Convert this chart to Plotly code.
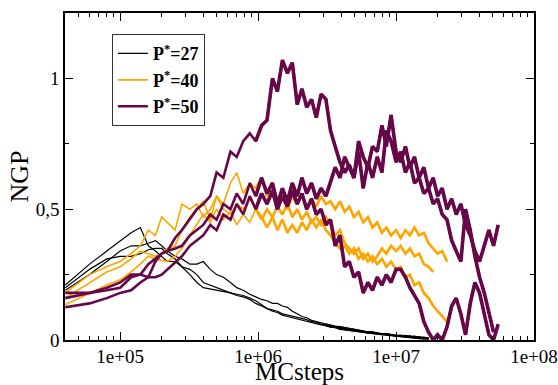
import plotly.graph_objects as go

# MC steps sampled (shared grid, each curve uses the first len(values) points)
mcsteps = [4.0e4, 6.0e4, 8.0e4, 1.0e5, 1.2e5, 1.4e5, 1.6e5, 1.8e5, 2.0e5, 2.2e5,
           2.5e5, 2.8e5, 3.2e5, 3.6e5, 4.0e5, 4.5e5, 5.0e5, 5.6e5, 6.3e5, 7.0e5,
           7.8e5, 8.7e5, 9.6e5, 1.06e6, 1.16e6, 1.27e6, 1.38e6, 1.5e6, 1.63e6, 1.77e6,
           1.92e6, 2.08e6, 2.25e6, 2.44e6, 2.64e6, 2.86e6, 3.1e6, 3.35e6, 3.62e6, 3.92e6,
           4.24e6, 4.58e6, 4.95e6, 5.35e6, 5.78e6, 6.25e6, 6.75e6, 7.3e6, 7.9e6, 8.5e6,
           9.2e6, 1.0e7, 1.08e7, 1.17e7, 1.26e7, 1.36e7, 1.47e7, 1.59e7, 1.72e7, 1.86e7,
           2.0e7, 2.16e7, 2.34e7, 2.53e7, 2.73e7, 2.95e7, 3.19e7, 3.45e7, 3.73e7, 4.03e7,
           4.36e7, 4.71e7, 5.09e7, 5.5e7]

# P* = 27 (black)
ngp27_a = [0.21, 0.29, 0.34, 0.38, 0.41, 0.43, 0.36, 0.34, 0.32, 0.30, 0.30, 0.28, 0.27, 0.25, 0.22,
           0.21, 0.20, 0.19, 0.18, 0.175, 0.17, 0.16, 0.15, 0.135, 0.12, 0.115, 0.11, 0.10, 0.095, 0.09,
           0.085, 0.08, 0.078, 0.07, 0.068, 0.06, 0.058, 0.052, 0.05, 0.046, 0.045, 0.04, 0.04, 0.035,
           0.032, 0.03, 0.028, 0.025, 0.024, 0.02, 0.02, 0.018, 0.015, 0.017, 0.012, 0.014, 0.008, 0.01, 0.005]
ngp27_b = [0.19, 0.25, 0.30, 0.34, 0.36, 0.36, 0.37, 0.38, 0.36, 0.34, 0.32, 0.31, 0.29, 0.29, 0.30,
           0.27, 0.25, 0.24, 0.22, 0.20, 0.19, 0.175, 0.165, 0.155, 0.15, 0.14, 0.14, 0.13, 0.125, 0.11,
           0.10, 0.09, 0.085, 0.075, 0.07, 0.065, 0.06, 0.055, 0.052, 0.05, 0.047, 0.042, 0.04, 0.037,
           0.033, 0.03, 0.03, 0.027, 0.022, 0.024, 0.02, 0.016, 0.018, 0.013, 0.015, 0.01, 0.012, 0.006, 0.008]
ngp27_c = [0.20, 0.27, 0.31, 0.32, 0.32, 0.33, 0.345, 0.35, 0.35, 0.33, 0.31, 0.28, 0.25, 0.22, 0.20,
           0.195, 0.19, 0.185, 0.18, 0.17, 0.165, 0.155, 0.14, 0.13, 0.12, 0.11, 0.105, 0.095, 0.09, 0.085,
           0.08, 0.075, 0.07, 0.068, 0.062, 0.058, 0.055, 0.05, 0.048, 0.042, 0.04, 0.038, 0.034, 0.033,
           0.03, 0.027, 0.025, 0.022, 0.02, 0.018, 0.016, 0.014, 0.012, 0.01, 0.01, 0.008, 0.006, 0.005, 0.004]

# P* = 40 (orange)
ngp40_a = [0.18, 0.25, 0.28, 0.30, 0.33, 0.36, 0.42, 0.40, 0.47, 0.45, 0.42, 0.52, 0.50, 0.52, 0.47,
           0.50, 0.55, 0.52, 0.60, 0.64, 0.56, 0.60, 0.58, 0.62, 0.55, 0.58, 0.52, 0.56, 0.50, 0.55,
           0.52, 0.56, 0.50, 0.54, 0.51, 0.55, 0.52, 0.53, 0.50, 0.53, 0.49, 0.51, 0.47, 0.49, 0.45,
           0.47, 0.43, 0.45, 0.41, 0.43, 0.40, 0.42, 0.39, 0.42, 0.40, 0.43, 0.40, 0.41, 0.37, 0.35,
           0.33, 0.34, 0.30]
ngp40_b = [0.16, 0.22, 0.26, 0.28, 0.31, 0.34, 0.33, 0.32, 0.33, 0.35, 0.36, 0.42, 0.47, 0.50, 0.53,
           0.46, 0.55, 0.50, 0.48, 0.52, 0.50, 0.54, 0.50, 0.46, 0.50, 0.47, 0.51, 0.48, 0.52, 0.47,
           0.50, 0.46, 0.49, 0.45, 0.47, 0.44, 0.47, 0.44, 0.40, 0.42, 0.37, 0.35, 0.33, 0.35, 0.31,
           0.33, 0.30, 0.32, 0.35, 0.33, 0.36, 0.34, 0.36, 0.33, 0.35, 0.32, 0.33, 0.29, 0.28, 0.26]
ngp40_c = [0.135, 0.18, 0.21, 0.23, 0.26, 0.29, 0.32, 0.31, 0.305, 0.30, 0.32, 0.35, 0.40, 0.44, 0.48,
           0.45, 0.50, 0.46, 0.49, 0.44, 0.48, 0.45, 0.50, 0.47, 0.43, 0.47, 0.42, 0.46, 0.41, 0.44,
           0.41, 0.45, 0.42, 0.46, 0.43, 0.46, 0.42, 0.40, 0.37, 0.35, 0.36, 0.33, 0.35, 0.31, 0.33,
           0.30, 0.32, 0.29, 0.31, 0.28, 0.30, 0.27, 0.28, 0.24, 0.25, 0.21, 0.22, 0.18, 0.16, 0.13,
           0.11, 0.09, 0.07]

# P* = 50 (maroon)
ngp50_a = [0.16, 0.18, 0.20, 0.22, 0.25, 0.25, 0.29, 0.31, 0.33, 0.34, 0.39, 0.42, 0.46, 0.50, 0.52,
           0.55, 0.64, 0.62, 0.72, 0.70, 0.76, 0.79, 0.76, 0.82, 0.84, 1.00, 0.95, 1.07, 1.02, 1.06,
           0.90, 0.96, 0.89, 0.92, 0.85, 0.94, 0.92, 0.80, 0.74, 0.68, 0.64, 0.67, 0.62, 0.72, 0.58,
           0.68, 0.62, 0.70, 0.64, 0.80, 0.76, 0.68, 0.72, 0.64, 0.68, 0.60, 0.62, 0.56, 0.58, 0.52,
           0.54, 0.48, 0.46, 0.38, 0.34, 0.30, 0.50, 0.42, 0.32, 0.24, 0.18, 0.10, 0.03]
ngp50_b = [0.18, 0.18, 0.19, 0.20, 0.24, 0.25, 0.24, 0.30, 0.33, 0.34, 0.35, 0.36, 0.40, 0.42, 0.44,
           0.48, 0.46, 0.52, 0.50, 0.56, 0.52, 0.60, 0.55, 0.62, 0.56, 0.60, 0.52, 0.58, 0.53, 0.60,
           0.55, 0.62, 0.56, 0.60, 0.54, 0.58, 0.55, 0.60, 0.66, 0.62, 0.70, 0.66, 0.62, 0.76, 0.70,
           0.66, 0.74, 0.72, 0.82, 0.74, 0.86, 0.72, 0.68, 0.74, 0.66, 0.70, 0.62, 0.66, 0.58, 0.62,
           0.55, 0.58, 0.50, 0.54, 0.48, 0.52, 0.44, 0.40, 0.34, 0.30, 0.36, 0.42, 0.36, 0.44]
ngp50_c = [0.125, 0.14, 0.16, 0.18, 0.19, 0.22, 0.24, 0.24, 0.25, 0.27, 0.30, 0.32, 0.36, 0.38, 0.40,
           0.44, 0.42, 0.48, 0.46, 0.52, 0.48, 0.55, 0.50, 0.56, 0.52, 0.57, 0.50, 0.55, 0.51, 0.57,
           0.52, 0.56, 0.50, 0.54, 0.48, 0.50, 0.44, 0.46, 0.36, 0.40, 0.28, 0.30, 0.24, 0.26, 0.18,
           0.22, 0.19, 0.24, 0.21, 0.25, 0.22, 0.27, 0.27, 0.24, 0.20, 0.17, 0.14, 0.07, 0.03, 0.00,
           0.02, 0.00, 0.05, 0.13, 0.16, 0.10, 0.02, 0.14, 0.22, 0.18, 0.10, 0.02, 0.00, 0.06]

x_ticks = [1e5, 1e6, 1e7, 1e8]
x_tick_labels = ["1e+05", "1e+06", "1e+07", "1e+08"]
y_ticks = [0, 0.5, 1]

# (legend label, colour, early width, noisy-tail width, index where noisy tail starts)
groups = [
    ("<b>P<sup>*</sup>=27</b>", "#000000", 1.2, 1.8, 36, [ngp27_a, ngp27_b, ngp27_c]),
    ("<b>P<sup>*</sup>=40</b>", "#FFA500", 1.6, 2.6, 22, [ngp40_a, ngp40_b, ngp40_c]),
    ("<b>P<sup>*</sup>=50</b>", "#670748", 2.6, 3.6, 22, [ngp50_a, ngp50_b, ngp50_c]),
]

fig = go.Figure()
for name, color, width, tail_width, tail_start, series in groups:
    for i, ys in enumerate(series):
        xs = mcsteps[:len(ys)]
        fig.add_trace(go.Scatter(
            x=xs, y=ys, mode="lines", name=name,
            legendgroup=name, showlegend=(i == 0),
            line=dict(color=color, width=width),
        ))
        fig.add_trace(go.Scatter(
            x=xs[tail_start:], y=ys[tail_start:], mode="lines", name=name,
            legendgroup=name, showlegend=False, hoverinfo="skip",
            line=dict(color=color, width=tail_width),
        ))

font_family = "Liberation Serif"
axis_common = dict(
    showline=True, linecolor="black", linewidth=1.5, mirror="ticks",
    ticks="inside", ticklen=8, tickwidth=1.2, tickcolor="black",
    showgrid=False, zeroline=False, automargin=False,
    tickfont=dict(family=font_family, size=19, color="black"),
)

fig.update_layout(
    width=558, height=385,
    margin=dict(l=65, r=24, t=13, b=45),
    paper_bgcolor="white", plot_bgcolor="white",
    separators=", ",
    showlegend=True,
    font=dict(family=font_family, color="black"),
    legend=dict(
        x=0.1, y=0.935, xanchor="left", yanchor="top",
        bgcolor="white", bordercolor="#333333", borderwidth=1,
        font=dict(family=font_family, size=18, color="black"),
        itemwidth=30, tracegroupgap=0, traceorder="normal",
    ),
    xaxis=dict(
        type="log", range=[4.6, 8],
        tickmode="array", tickvals=x_ticks, ticktext=x_tick_labels,
        ticklabelstandoff=-2,
        minor=dict(ticks="inside", ticklen=4, tickcolor="black", dtick="D1", showgrid=False),
        title=dict(text="MCsteps", font=dict(family=font_family, size=25, color="black"), standoff=9),
        **axis_common,
    ),
    yaxis=dict(
        range=[0, 1.25],
        tickmode="array", tickvals=y_ticks,
        minor=dict(ticks="inside", ticklen=4, tickcolor="black", dtick=0.25, showgrid=False),
        title=dict(text="NGP", font=dict(family=font_family, size=26, color="black"), standoff=0),
        **axis_common,
    ),
)

fig.write_html("out.html", config={"displayModeBar": False},
               post_script="document.body.style.margin = '0';")
